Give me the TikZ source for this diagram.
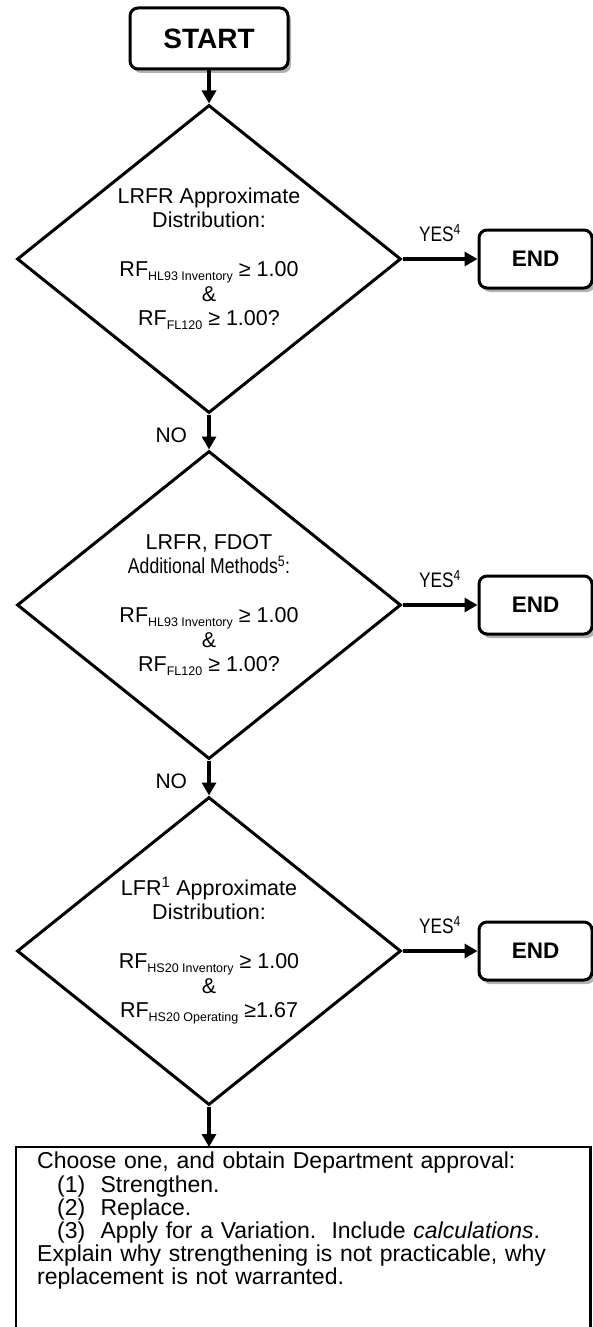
\documentclass[tikz,border=0pt]{standalone}
\usepackage{fontspec}
\setmainfont{Liberation Sans}
\usepackage{graphicx}
\usetikzlibrary{positioning, arrows.meta, shapes.geometric, shadows}

\newcommand{\narrow}[1]{\scalebox{0.82}[1]{#1}}
\newcommand{\rfsub}[1]{\raisebox{-4pt}{\fontsize{12.5}{13}\selectfont #1}}

\tikzset{
  termbox/.style={draw, line width=3pt, rounded corners=8pt, fill=white,
    minimum width=113pt, minimum height=58pt,
    font=\fontsize{22.5}{26}\selectfont\bfseries,
    drop shadow={shadow xshift=3pt, shadow yshift=-4pt, fill=black, opacity=0.3}},
  decision/.style={diamond, draw, line width=3pt, aspect=1.25,
    minimum width=384pt, minimum height=308pt, inner sep=0pt,
    align=center, font=\fontsize{21.5}{24.5}\selectfont},
  flow/.style={line width=4pt, -{Triangle[length=13pt, width=14pt]}},
  lbl/.style={inner sep=0pt, font=\fontsize{21}{24}\selectfont}
}

\begin{document}
\begin{tikzpicture}[x=1pt, y=-1pt]
    \useasboundingbox (0,0) rectangle (592,1327);

    \node[termbox, minimum width=158pt, minimum height=61pt,
          font=\fontsize{28}{32}\selectfont\bfseries] (start) at (209,38.5) {START};

    \node[decision] (d1) at (209,259) {
        LRFR Approximate\\
        Distribution:\\[24.5pt]
        RF\rfsub{HL93 Inventory} ≥ 1.00\\
        \&\\
        RF\rfsub{FL120} ≥ 1.00?
    };
    \node[decision] (d2) at (209,605) {
        LRFR, FDOT\\
        \narrow{Additional Methods\textsuperscript{5}:}\\[24.5pt]
        RF\rfsub{HL93 Inventory} ≥ 1.00\\
        \&\\
        RF\rfsub{FL120} ≥ 1.00?
    };
    \node[decision] (d3) at (209,951) {
        LFR\textsuperscript{1} Approximate\\
        Distribution:\\[24.5pt]
        RF\rfsub{HS20 Inventory} ≥ 1.00\\
        \&\\
        RF\rfsub{HS20 Operating} ≥1.67
    };

    \node[termbox, right=75pt of d1] (end1) {END};
    \node[termbox, right=75pt of d2] (end2) {END};
    \node[termbox, right=75pt of d3] (end3) {END};

    % box runs off the bottom of the page
    \node[anchor=north west, inner xsep=21pt, inner ysep=5pt,
          text width=532pt, align=left, text depth=280pt,
          font=\fontsize{23}{23.2}\selectfont] (final) at (16,1147) {
        Choose one, and obtain Department approval:\\
        \hspace*{20pt}(1)\ \ Strengthen.\\
        \hspace*{20pt}(2)\ \ Replace.\\
        \hspace*{20pt}(3)\ \ Apply for a Variation.\ \ Include \textit{calculations}.\\
        Explain why strengthening is not practicable, why\\
        replacement is not warranted.
    };
    \draw[line width=2.5pt] (final.south west) -- (final.north west)
        -- (final.north east) -- (final.south east);

    % flow
    \draw[flow] (start.south) -- (d1.north);
    \draw[flow] (d1.south) -- node[lbl, left=20pt, pos=0.6] {NO} (d2.north);
    \draw[flow] (d2.south) -- node[lbl, left=20pt, pos=0.6] {NO} (d3.north);
    \draw[flow] (d3.south) -- (d3.south |- final.north);

    \draw[flow] (d1.east) -- node[lbl, above=15pt] {\narrow{YES\textsuperscript{4}}} (end1.west);
    \draw[flow] (d2.east) -- node[lbl, above=15pt] {\narrow{YES\textsuperscript{4}}} (end2.west);
    \draw[flow] (d3.east) -- node[lbl, above=15pt] {\narrow{YES\textsuperscript{4}}} (end3.west);
\end{tikzpicture}
\end{document}
